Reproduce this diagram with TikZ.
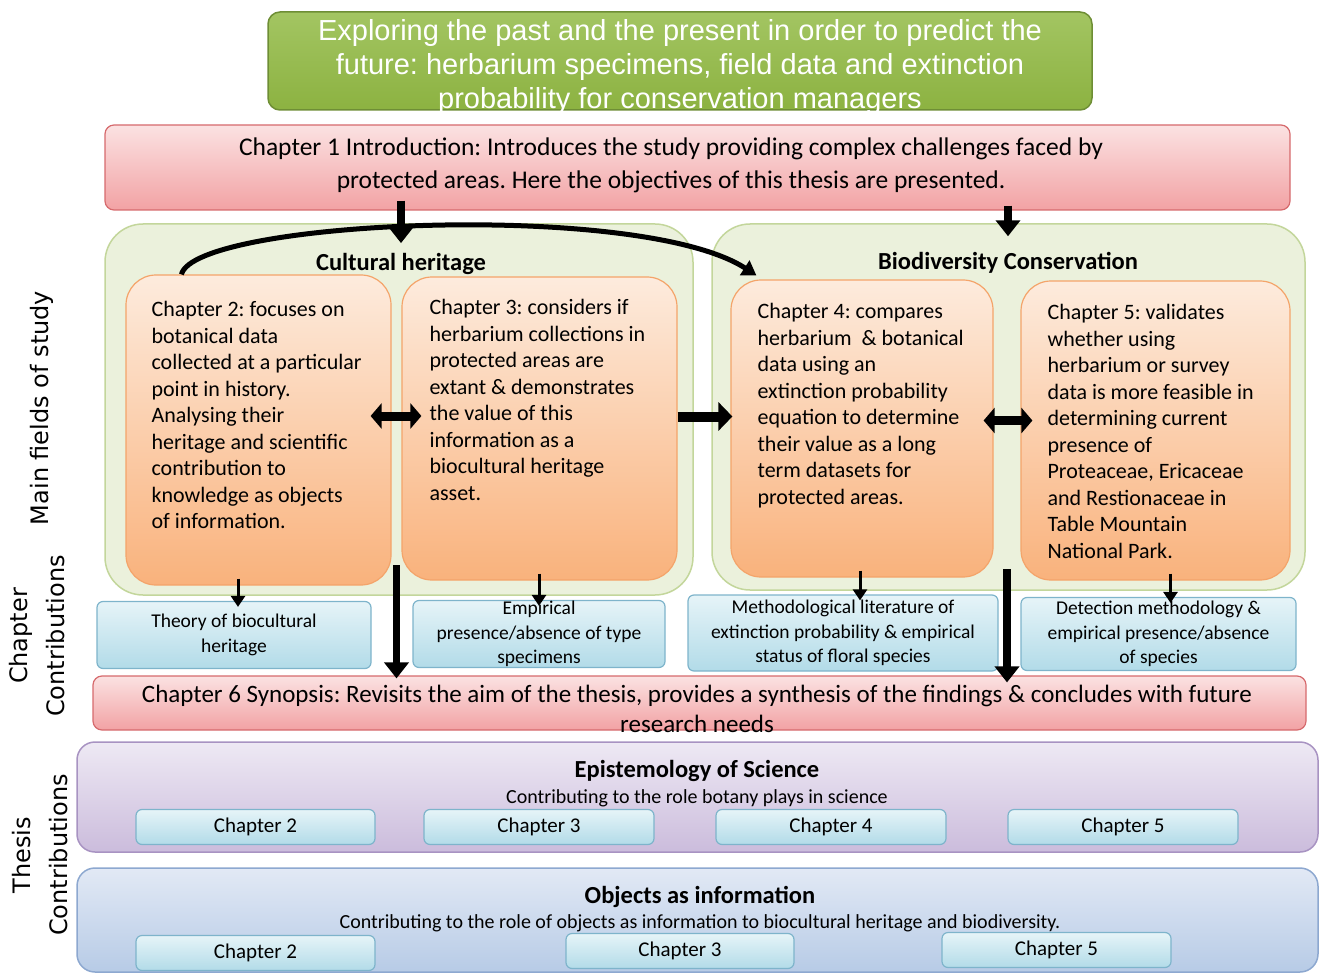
\documentclass[tikz,border=0pt]{standalone}
\usepackage{fontspec}
\setmainfont{Carlito}
\newfontfamily\titlefont{Liberation Sans}
\newfontfamily\sidefont{DejaVu Sans}
\usetikzlibrary{arrows.meta,positioning,calc}
\frenchspacing
\definecolor{ThesisGreen}{HTML}{8CB241}
\definecolor{ThesisGreenTop}{HTML}{A3C562}
\definecolor{ThesisGreenLine}{HTML}{6E8E35}
\definecolor{ThesisPink}{HTML}{F2A2A4}
\definecolor{ThesisPinkTop}{HTML}{FBE2E2}
\definecolor{ThesisPinkLine}{HTML}{D66A6D}
\definecolor{ThesisLeaf}{HTML}{EBF1DC}
\definecolor{ThesisLeafLine}{HTML}{C3D69B}
\definecolor{ThesisPeach}{HTML}{F9B27C}
\definecolor{ThesisPeachTop}{HTML}{FDEBDD}
\definecolor{ThesisPeachLine}{HTML}{F4A46A}
\definecolor{ThesisSky}{HTML}{B2DBE8}
\definecolor{ThesisSkyTop}{HTML}{E6F4F8}
\definecolor{ThesisSkyLine}{HTML}{7EB4CB}
\definecolor{ThesisLilac}{HTML}{CBBCDC}
\definecolor{ThesisLilacTop}{HTML}{EEE9F4}
\definecolor{ThesisLilacLine}{HTML}{A893C2}
\definecolor{ThesisSteel}{HTML}{B7CBE6}
\definecolor{ThesisSteelTop}{HTML}{E2E9F5}
\definecolor{ThesisSteelLine}{HTML}{8DA8D0}

\begin{document}
\begin{tikzpicture}[x=1pt,y=-1pt,
titlebox/.style={draw=ThesisGreenLine,line width=1.5pt,top color=ThesisGreenTop,bottom color=ThesisGreen,rounded corners=12pt,inner sep=0pt},
panel/.style={draw=ThesisLeafLine,line width=1.5pt,fill=ThesisLeaf,rounded corners=38pt,inner sep=0pt},
chapbox/.style={draw=ThesisPeachLine,line width=1.2pt,top color=ThesisPeachTop,bottom color=ThesisPeach,rounded corners=30pt,inner sep=0pt},
pinkbox/.style={draw=ThesisPinkLine,line width=1.2pt,top color=ThesisPinkTop,bottom color=ThesisPink,rounded corners=9pt,inner sep=0pt},
skybox/.style={draw=ThesisSkyLine,line width=1.2pt,top color=ThesisSkyTop,bottom color=ThesisSky,rounded corners=6pt,inner sep=0pt,align=center,font=\fontsize{19.5}{24.5}\selectfont},
chapbtn/.style={skybox,minimum height=35,font=\fontsize{21}{24}\selectfont},
lowpanel/.style={line width=1.5pt,rounded corners=18pt,inner sep=0pt,minimum width=1241},
bodytxt/.style={anchor=north west,inner sep=0pt,align=left,font=\fontsize{22}{26.5}\selectfont},
headtxt/.style={inner sep=0pt,font=\fontsize{24.5}{28}\selectfont\bfseries},
subtxt/.style={inner sep=0pt,font=\fontsize{20}{24}\selectfont},
sidetxt/.style={rotate=90,inner sep=0pt,align=center,font=\sidefont\fontsize{24}{37}\selectfont},
bigarrow/.style={line width=7.5pt,-{Triangle[length=16pt,width=24pt]}},
curvearrow/.style={line width=5pt,-{Triangle[length=14pt,width=17pt]}},
dblarrow/.style={line width=9pt,{Triangle[length=11pt,width=25pt]}-{Triangle[length=11pt,width=25pt]}},
thinarrow/.style={line width=3pt,-{Triangle[length=11pt,width=14pt]}}]
\useasboundingbox (0,0) rectangle (1322,976);
% title and introduction
\node[titlebox,minimum width=824,minimum height=98] (title) at (680,61) {};
\node[inner sep=0pt,align=center,text=white,font=\titlefont\fontsize{29}{34}\selectfont] (titletxt) at (680,67) {Exploring the past and the present in order to predict the\\future: herbarium specimens, field data and extinction\\probability for conservation managers};
\node[pinkbox,minimum width=1185,minimum height=85] (ch1) at (697.5,167.5) {};
\node[inner sep=0pt,align=center,font=\fontsize{25.5}{33}\selectfont] (ch1txt) at (671,165) {Chapter 1 Introduction: Introduces the study providing complex challenges faced by\\protected areas. Here the objectives of this thesis are presented.};
% fields of study
\node[panel,minimum width=588,minimum height=371] (cult) at (399,409.5) {};
\node[panel,minimum width=593,minimum height=366] (bio) at (1008.5,407) {};
\node[headtxt] (cultT) at (401,264) {Cultural heritage};
\node[headtxt] (bioT) at (1008,263) {Biodiversity Conservation};
\foreach \n/\x/\y/\w/\h in {2/258.5/430/265/310,3/539.5/428.5/275/303,4/862/428.5/262/297,5/1155.5/430.5/269/299}{\node[chapbox,minimum width=\w,minimum height=\h] (ch\n) at (\x,\y) {};}
\node[bodytxt] (ch2txt) at ([shift={(26pt,-27pt)}]ch2.north west) {Chapter 2: focuses on\\botanical data\\collected at a particular\\point in history.\\Analysing their\\heritage and scientific\\contribution to\\knowledge as objects\\of information.};
\node[bodytxt] (ch3txt) at ([shift={(28pt,-23pt)}]ch3.north west) {Chapter 3: considers if\\herbarium collections in\\protected areas are\\extant \& demonstrates\\the value of this\\information as a\\biocultural heritage\\asset.};
\node[bodytxt] (ch4txt) at ([shift={(27pt,-24pt)}]ch4.north west) {Chapter 4: compares\\herbarium \ \& botanical\\data using an\\extinction probability\\equation to determine\\their value as a long\\term datasets for\\protected areas.};
\node[bodytxt] (ch5txt) at ([shift={(27pt,-24pt)}]ch5.north west) {Chapter 5: validates\\whether using\\herbarium or survey\\data is more feasible in\\determining current\\presence of\\Proteaceae, Ericaceae\\and Restionaceae in\\Table Mountain\\National Park.};
% chapter contributions
\node[skybox,minimum width=274,minimum height=67] (c2) at (234,635) {Theory of biocultural\\heritage};
\node[skybox,minimum width=252,minimum height=67] (c3) at (539,634) {Empirical\\presence/absence of type\\specimens};
\node[skybox,minimum width=310,minimum height=76] (c4) at (843,633) {Methodological literature of\\extinction probability \& empirical\\status of floral species};
\node[skybox,minimum width=275,minimum height=73] (c5) at (1158.5,634) {Detection methodology \&\\empirical presence/absence\\of species};
\node[pinkbox,minimum width=1213,minimum height=54] (ch6) at (699.5,703) {};
\node[inner sep=0pt,align=center,font=\fontsize{25}{30}\selectfont] (ch6txt) at (697,709) {Chapter 6 Synopsis: Revisits the aim of the thesis, provides a synthesis of the findings \& concludes with future\\research needs};
% connectors
\draw[bigarrow] ([yshift=10pt]ch1.south -| cultT) -- ([yshift=10pt]cultT.north);
\draw[bigarrow] ([yshift=5pt]ch1.south -| bioT) -- ([yshift=16pt]bioT.north);
\draw[curvearrow] ([xshift=56pt]ch2.north west) .. controls (195,220) and (640,200) .. ([shift={(26pt,4pt)}]ch4.north west);
\draw[dblarrow,shorten <=-21pt,shorten >=-20pt] ([yshift=14pt]ch2.east) -- ([yshift=14pt]ch2.east -| ch3.west);
\draw[dblarrow,shorten <=-10pt,shorten >=-12pt] ([yshift=8pt]ch4.east) -- ([yshift=8pt]ch4.east -| ch5.west);
\draw[line width=10pt,-{Triangle[length=14pt,width=28pt]},shorten >=-2pt] ([yshift=12pt]ch3.east) -- ([yshift=12pt]ch3.east -| ch4.west);
\foreach \n/\dx in {2/4,3/0,4/17,5/12}{\draw[thinarrow,shorten <=-7pt,shorten >=-6pt] ([xshift=\dx pt]c\n.north |- ch\n.south) -- ([xshift=\dx pt]c\n.north);}
\coordinate (gapL) at ($(ch2.south east)!.5!(ch3.south west)$);
\coordinate (gapR) at ($(ch4.south east)!.5!(ch5.south west)$);
\draw[bigarrow,shorten >=-3pt] ([yshift=18pt]gapL) -- (gapL |- ch6.north);
\draw[bigarrow,shorten >=-7pt] ([yshift=10pt]gapR) -- (gapR |- ch6.north);
% thesis contributions
\node[lowpanel,draw=ThesisLilacLine,top color=ThesisLilacTop,bottom color=ThesisLilac,minimum height=110] (epi) at (697.5,797) {};
\node[headtxt] (epiT) at (697,771) {Epistemology of Science};
\node[subtxt] (epiS) at (697,798) {Contributing to the role botany plays in science};
\foreach \n/\x/\w in {2/255.5/239,3/539/230,4/831/230,5/1123/230}{\node[chapbtn,minimum width=\w] (epi\n) at (\x,827) {Chapter \n};}
\node[lowpanel,draw=ThesisSteelLine,top color=ThesisSteelTop,bottom color=ThesisSteel,minimum height=104] (obj) at (697.5,920) {};
\node[headtxt] (objT) at (700,897) {Objects as information};
\node[subtxt] (objS) at (700,923) {Contributing to the role of objects as information to biocultural heritage and biodiversity.};
\foreach \n/\x/\y/\w in {2/255.5/953/239,3/680/951/228,5/1056.5/950/229}{\node[chapbtn,minimum width=\w] (obj\n) at (\x,\y) {Chapter \n};}
% side labels
\node[sidetxt] (fieldsLbl) at (42,408) {Main fields of study};
\node[sidetxt] (chapLbl) at (37,636) {Chapter\\Contributions};
\node[sidetxt] (thesisLbl) at (40,855) {Thesis\\Contributions};
\end{tikzpicture}
\end{document}
